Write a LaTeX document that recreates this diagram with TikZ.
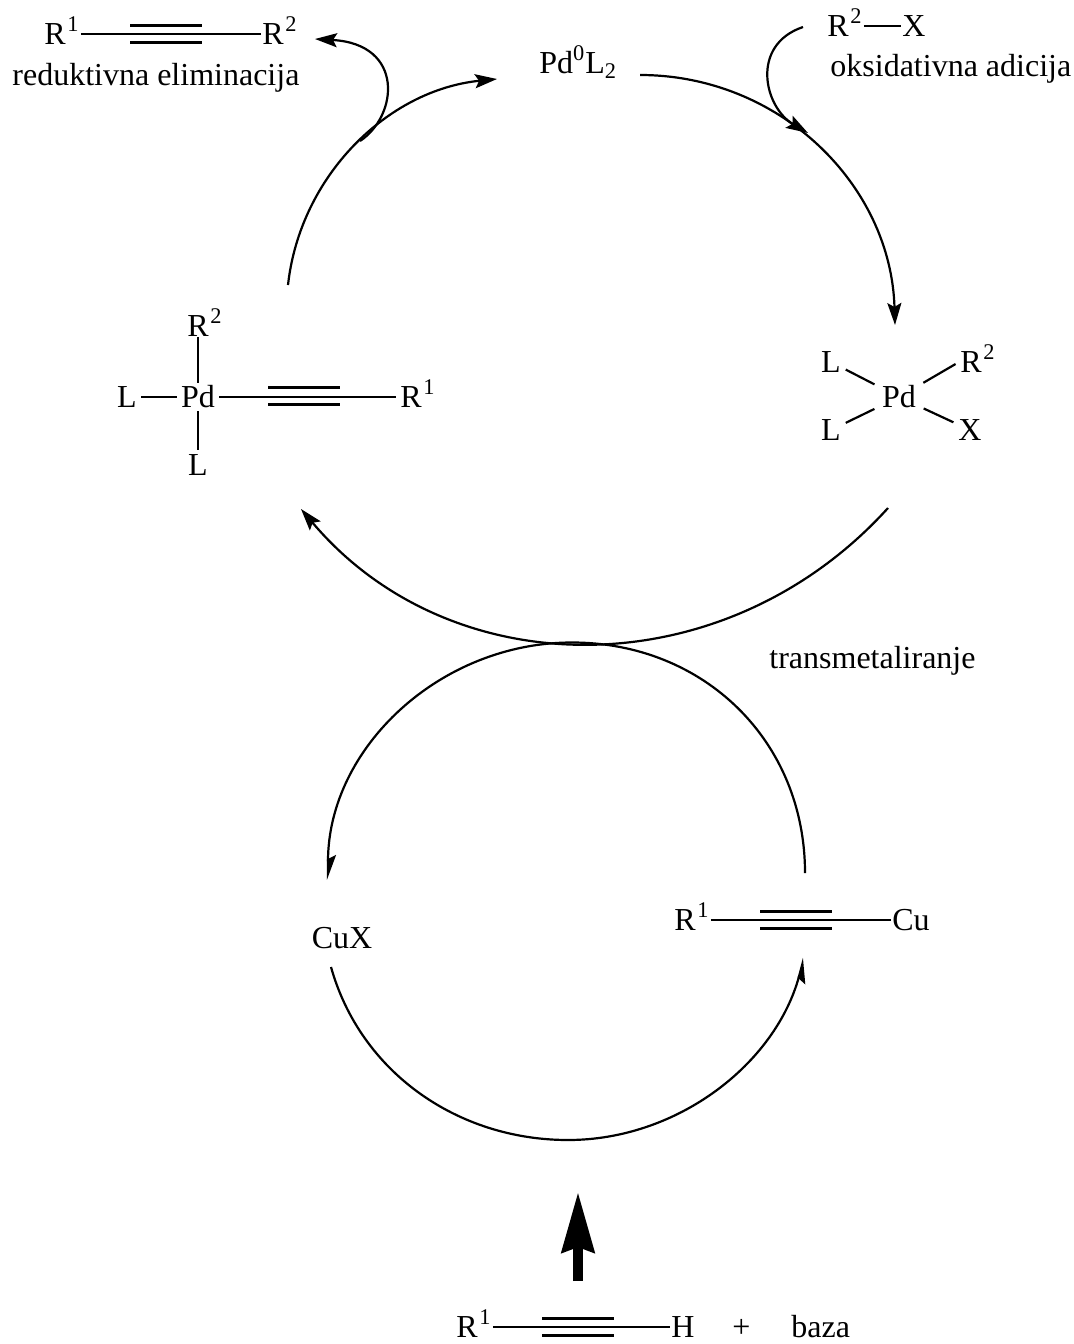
\documentclass[tikz,border=0pt]{standalone}
\usepackage{fontspec}
\setmainfont{Liberation Serif}
\usepackage{tikz}
\usetikzlibrary{arrows.meta,positioning}

\tikzset{
    atom/.style={inner sep=0.5pt,text height=10pt,text depth=0pt,font=\fontsize{16}{18}\selectfont},
    label/.style={inner sep=0pt,anchor=base west,font=\fontsize{16}{18}\selectfont},
    bond/.style={line width=1.1pt},
    padbond/.style={line width=1.1pt,shorten <=3.5pt,shorten >=2pt},
    cyclearrow/.style={line width=1.1pt,-{Stealth[length=11pt,width=7pt,inset=2pt]}},
    halfarrow/.style={line width=1.1pt,-{Stealth[harpoon,length=11pt,width=8pt,inset=2pt]}},
    halfarrowb/.style={line width=1.1pt,-{Stealth[harpoon,swap,length=11pt,width=8pt,inset=2pt]}},
    basearrow/.style={line width=5pt,-{Stealth[length=30pt,width=16pt,inset=2.5pt]}}
}

\newcommand{\trojna}[2]{\draw[bond] ({#1-36},{#2-8.5}) -- ++(72,0) ({#1-36},{#2+8.5}) -- ++(72,0);}
\newcommand{\gor}[1]{\kern0.8pt\textsuperscript{#1}}

\begin{document}
\begin{tikzpicture}[x=0.5pt,y=-0.5pt]
    \useasboundingbox (0,0) rectangle (1073,1344);

    % Product of the elimination step
    \node[atom,anchor=west] (prodR) at (43,34) {R\gor{1}};
    \node[atom,anchor=west] (prodRb) at (261,34) {R\gor{2}};
    \draw[bond] (prodR) -- (prodRb);
    \trojna{166}{34}
    \node[label] (elim) at (12,85) {reduktivna eliminacija};

    % Oxidative addition reagent
    \node[atom,anchor=west] (reagR) at (826,26) {R\gor{2}};
    \node[atom] (reagX) at (914,26) {X};
    \draw[bond] (reagR) -- (reagX);
    \node[label] (oxad) at (830,76) {oksidativna adicija};

    % Pd(0) catalyst
    \node[atom,anchor=west] (pdzero) at (538,63) {Pd\textsuperscript{0}L\textsubscript{2}};

    % Left Pd complex
    \node[atom] (lpd) at (198,397) {Pd};
    \node[atom] (lpdL) at (127,397) {L};
    \node[atom] (lpdLb) at (198,465) {L};
    \node[atom,anchor=west] (lpdRb) at (186,326) {R\gor{2}};
    \node[atom,anchor=west] (lpdR) at (399,397) {R\gor{1}};
    \draw[bond,shorten <=1.5pt,shorten >=1.5pt] (lpdL) -- (lpd);
    \draw[bond,shorten <=1.5pt,shorten >=2pt] (lpd) -- (lpdLb);
    \draw[bond,shorten <=1.5pt] (lpd) -- (lpd|-lpdRb.south);
    \draw[bond,shorten <=1.5pt,shorten >=1.5pt] (lpd) -- (lpdR);
    \trojna{304}{396}

    % Right Pd complex
    \node[atom] (rpd) at (899,397) {Pd};
    \node[atom] (rpdL) at (831,362) {L};
    \node[atom] (rpdLb) at (831,430) {L};
    \node[atom,anchor=west] (rpdRb) at (959,362) {R\gor{2}};
    \node[atom] (rpdX) at (970,430) {X};
    \draw[padbond] (rpd) -- (rpdL);
    \draw[padbond] (rpd) -- (rpdLb);
    \draw[padbond] (rpd) -- (rpdRb.west);
    \draw[padbond] (rpd) -- (rpdX);

    % Copper species
    \node[atom] (cux) at (342,938) {CuX};
    \node[atom,anchor=west] (cuR) at (673,920) {R\gor{1}};
    \node[atom] (cuCu) at (911,920) {Cu};
    \draw[bond] (cuR) -- (cuCu);
    \trojna{796}{920}

    \node[label] (trans) at (769,668) {transmetaliranje};

    % Alkyne and base
    \node[atom,anchor=west] (alkR) at (455,1327) {R\gor{1}};
    \node[atom] (alkH) at (683,1327) {H};
    \draw[bond] (alkR) -- (alkH);
    \trojna{578}{1327}
    \node[label] (plus) at (732,1337) {+};
    \node[label] (baza) at (791,1337) {baza};

    % Pd cycle
    \coordinate (a1) at (640,75);
    \coordinate (a2) at (895,325);
    \coordinate (b1) at (888,508);
    \coordinate (b2) at (301,509);
    \coordinate (c1) at (288,285);
    \coordinate (c2) at (497,79);
    \draw[cyclearrow] (a1) .. controls (780,75) and (891,185) .. (a2);
    \draw[cyclearrow] (b1) .. controls (725,688) and (452,688) .. (b2);
    \draw[cyclearrow] (c1) .. controls (300,176) and (387.5,90) .. (c2);

    % Side arrows
    \coordinate (d1) at (803,27);
    \coordinate (d2) at (808,133);
    \coordinate (e1) at (360,141);
    \coordinate (e2) at (315,39);
    \draw[cyclearrow] (d1) .. controls (750,45) and (764,107) .. (d2);
    \draw[cyclearrow] (e1) .. controls (398,116) and (405,44) .. (e2);

    % Cu cycle
    \coordinate (f1) at (805,873);
    \coordinate (ftop) at (572,642.5);
    \coordinate (f2) at (328,880);
    \coordinate (g1) at (331,967);
    \coordinate (gbot) at (568,1140);
    \coordinate (g2) at (804,958);
    \draw[halfarrow] (f1) .. controls (805,741) and (704,642.5) .. (ftop) .. controls (440,642.5) and (328,748) .. (f2);
    \draw[halfarrowb] (g1) .. controls (360.6,1072.6) and (458,1140) .. (gbot) .. controls (678,1140) and (775.5,1063.4) .. (g2);

    % Base arrow
    \coordinate (h1) at (578,1281);
    \coordinate (h2) at (578,1192);
    \draw[basearrow] (h1) -- (h2);
\end{tikzpicture}
\end{document}
